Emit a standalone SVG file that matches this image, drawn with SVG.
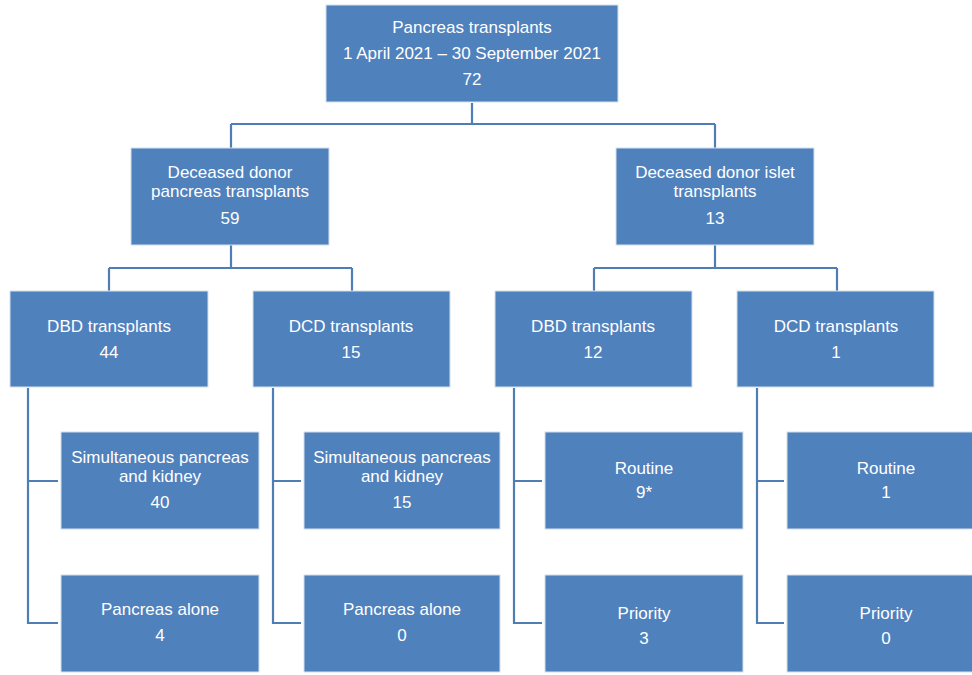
<svg xmlns="http://www.w3.org/2000/svg" width="972" height="675" viewBox="0 0 972 675">
<style>
.box{fill:#4F81BD;stroke:#D6E0EE;stroke-width:1}
.t{font-family:"Liberation Sans",Arial,sans-serif;font-size:17px;fill:#FFFFFF;text-anchor:middle}
.c{fill:none;stroke:#4F7DB5;stroke-width:2.2}
</style>
<rect width="972" height="675" fill="#FFFFFF"/>
<g id="connectors">
<path class="c" d="M472 103V124M231 124H715M231 124V148M715 124V148"/>
<path class="c" d="M231 245V268M109 268H352M109 268V291M352 268V291"/>
<path class="c" d="M715 245V268M594 268H837M594 268V291M837 268V291"/>
<path class="c" d="M28 388V623H58M28 481H58"/>
<path class="c" d="M273 388V623H301M273 481H301"/>
<path class="c" d="M514 388V623H542M514 481H542"/>
<path class="c" d="M757 388V623H784M757 481H784"/>
</g>
<g id="root"><rect class="box" x="326" y="5" width="292" height="97"/>
<text class="t" x="472" y="33">Pancreas transplants</text>
<text class="t" x="472" y="59">1 April 2021 – 30 September 2021</text>
<text class="t" x="472" y="85">72</text></g>
<g id="ddpt"><rect class="box" x="131" y="148" width="198" height="97"/>
<text class="t" x="230" y="178">Deceased donor</text>
<text class="t" x="230" y="197">pancreas transplants</text>
<text class="t" x="230" y="224">59</text></g>
<g id="ddit"><rect class="box" x="616" y="148" width="198" height="97"/>
<text class="t" x="715" y="178">Deceased donor islet</text>
<text class="t" x="715" y="197">transplants</text>
<text class="t" x="715" y="224">13</text></g>
<g id="dbd1"><rect class="box" x="10" y="291" width="198" height="96"/>
<text class="t" x="109" y="332">DBD transplants</text>
<text class="t" x="109" y="358">44</text></g>
<g id="dcd1"><rect class="box" x="253" y="291" width="197" height="96"/>
<text class="t" x="351" y="332">DCD transplants</text>
<text class="t" x="351" y="358">15</text></g>
<g id="dbd2"><rect class="box" x="495" y="291" width="197" height="96"/>
<text class="t" x="593" y="332">DBD transplants</text>
<text class="t" x="593" y="358">12</text></g>
<g id="dcd2"><rect class="box" x="737" y="291" width="197" height="96"/>
<text class="t" x="836" y="332">DCD transplants</text>
<text class="t" x="836" y="358">1</text></g>
<g id="spk1"><rect class="box" x="61" y="432" width="198" height="97"/>
<text class="t" x="160" y="463">Simultaneous pancreas</text>
<text class="t" x="160" y="482">and kidney</text>
<text class="t" x="160" y="508">40</text></g>
<g id="pa1"><rect class="box" x="61" y="575" width="198" height="97"/>
<text class="t" x="160" y="615">Pancreas alone</text>
<text class="t" x="160" y="641">4</text></g>
<g id="spk2"><rect class="box" x="304" y="432" width="196" height="97"/>
<text class="t" x="402" y="463">Simultaneous pancreas</text>
<text class="t" x="402" y="482">and kidney</text>
<text class="t" x="402" y="508">15</text></g>
<g id="pa2"><rect class="box" x="304" y="575" width="196" height="97"/>
<text class="t" x="402" y="615">Pancreas alone</text>
<text class="t" x="402" y="641">0</text></g>
<g id="rout1"><rect class="box" x="545" y="432" width="198" height="97"/>
<text class="t" x="644" y="474">Routine</text>
<text class="t" x="644" y="498">9*</text></g>
<g id="prio1"><rect class="box" x="545" y="575" width="198" height="97"/>
<text class="t" x="644" y="619">Priority</text>
<text class="t" x="644" y="644">3</text></g>
<g id="rout2"><rect class="box" x="787" y="432" width="198" height="97"/>
<text class="t" x="886" y="474">Routine</text>
<text class="t" x="886" y="498">1</text></g>
<g id="prio2"><rect class="box" x="787" y="575" width="198" height="97"/>
<text class="t" x="886" y="619">Priority</text>
<text class="t" x="886" y="644">0</text></g>
</svg>
